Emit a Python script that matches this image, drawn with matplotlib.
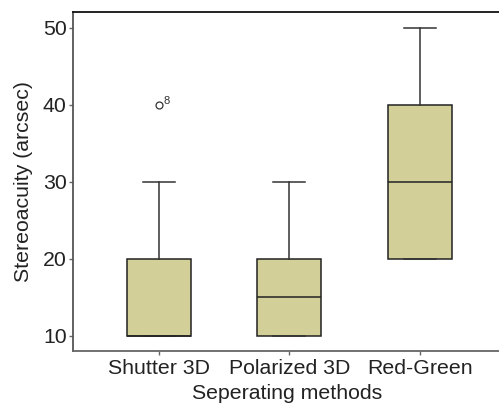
import matplotlib
matplotlib.use("Agg")
import matplotlib.pyplot as plt

plt.rcParams['font.family'] = ['Liberation Sans', 'DejaVu Sans']

methods = ["Shutter 3D", "Polarized 3D", "Red-Green"]
q1 = [10, 10, 20]
med = [10, 15, 30]
q3 = [20, 20, 40]
whislo = [10, 10, 20]
whishi = [30, 30, 50]
fliers = [[40], [], []]
flier_ids = [["8"], [], []]

stats = []
for i in range(len(methods)):
    stats.append(dict(label=methods[i], q1=q1[i], med=med[i], q3=q3[i],
                      whislo=whislo[i], whishi=whishi[i], fliers=fliers[i]))

fig = plt.figure(figsize=(4.99, 4.08), dpi=100)
ax = fig.add_axes([0.146, 0.140, 0.86, 0.831])

ax.bxp(stats, positions=[1, 2, 3], widths=0.49, patch_artist=True,
       boxprops=dict(facecolor="#d3cf98", edgecolor="#222222", linewidth=1.1),
       medianprops=dict(color="#222222", linewidth=1.1),
       whiskerprops=dict(color="#333333", linewidth=1.1),
       capprops=dict(color="#333333", linewidth=1.1),
       flierprops=dict(marker="o", markerfacecolor="none", markeredgecolor="#333333",
                       markersize=5, markeredgewidth=0.9))

for i in range(len(methods)):
    for v, lab in zip(fliers[i], flier_ids[i]):
        ax.annotate(lab, (i + 1, v), xytext=(3, 1), textcoords="offset points",
                    fontsize=8, color="#333333")

ax.set_xlim(0.34, 3.63)
ax.set_ylim(8.05, 52.1)
ax.set_yticks([10, 20, 30, 40, 50])
ax.tick_params(axis="both", labelsize=15.3, colors="#222222", length=3, width=1,
               direction="out")
ax.tick_params(axis="x", color="#666666", pad=3)
ax.tick_params(axis="y", color="#666666", pad=1.5)
ax.set_xlabel("Seperating methods", fontsize=15.3, color="#222222", labelpad=4)
ax.set_ylabel("Stereoacuity (arcsec)", fontsize=15.3, color="#222222", labelpad=7)

ax.spines["right"].set_visible(False)
ax.spines["top"].set_color("#111111")
ax.spines["left"].set_color("#555555")
ax.spines["bottom"].set_color("#666666")
for s in ax.spines.values():
    s.set_linewidth(1.3)

fig.savefig("out.png", dpi=100)
